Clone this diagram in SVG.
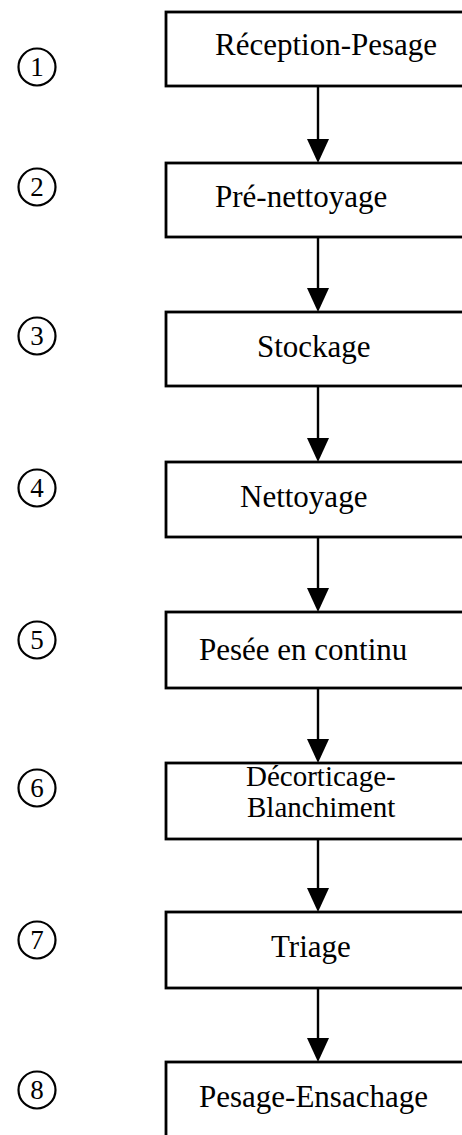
<svg xmlns="http://www.w3.org/2000/svg" width="462" height="1135" viewBox="0 0 462 1135">
<style>
.box{fill:#fff;stroke:#000;stroke-width:2.8}
.lbl{font-family:"Liberation Serif","Times New Roman",serif;font-size:31px;fill:#000}
.lbl2{font-family:"Liberation Serif","Times New Roman",serif;font-size:29px;fill:#000}
.num{font-family:"Liberation Serif","Times New Roman",serif;font-size:27px;fill:#000;text-anchor:middle}
.circ{fill:none;stroke:#000;stroke-width:2.2}
.edge{stroke:#000;stroke-width:2.4;fill:none}
</style>
<defs>
<marker id="ah" markerUnits="userSpaceOnUse" markerWidth="24" markerHeight="22" refX="14" refY="11" orient="auto" viewBox="0 0 24 22">
<polygon points="0,0 24,11 0,22" fill="#000"/>
</marker>
</defs>
<rect width="462" height="1135" fill="#fff"/>
<g id="connectors">
<line class="edge" x1="318" y1="86" x2="318" y2="153" marker-end="url(#ah)"/>
<line class="edge" x1="318" y1="237" x2="318" y2="302" marker-end="url(#ah)"/>
<line class="edge" x1="318" y1="386" x2="318" y2="452" marker-end="url(#ah)"/>
<line class="edge" x1="318" y1="537" x2="318" y2="602" marker-end="url(#ah)"/>
<line class="edge" x1="318" y1="688" x2="318" y2="753" marker-end="url(#ah)"/>
<line class="edge" x1="318" y1="839" x2="318" y2="902" marker-end="url(#ah)"/>
<line class="edge" x1="318" y1="988" x2="318" y2="1052" marker-end="url(#ah)"/>
</g>
<g id="n1"><rect class="box" x="166" y="12" width="310" height="74"/><text class="lbl" x="215" y="55">Réception-Pesage</text></g>
<g id="n2"><rect class="box" x="166" y="163" width="310" height="74"/><text class="lbl" x="215" y="207">Pré-nettoyage</text></g>
<g id="n3"><rect class="box" x="166" y="312" width="310" height="74"/><text class="lbl" x="257" y="357">Stockage</text></g>
<g id="n4"><rect class="box" x="166" y="462" width="310" height="75"/><text class="lbl" x="240" y="507">Nettoyage</text></g>
<g id="n5"><rect class="box" x="166" y="612" width="310" height="76"/><text class="lbl" x="199" y="660">Pesée en continu</text></g>
<g id="n6"><rect class="box" x="166" y="763" width="310" height="76"/><text class="lbl2" x="246" y="786">Décorticage-</text><text class="lbl2" x="247" y="817">Blanchiment</text></g>
<g id="n7"><rect class="box" x="166" y="912" width="310" height="76"/><text class="lbl" x="271" y="957">Triage</text></g>
<g id="n8"><rect class="box" x="166" y="1062" width="310" height="90"/><text class="lbl" x="199" y="1107">Pesage-Ensachage</text></g>
<g id="c1"><circle class="circ" cx="37" cy="67" r="18.5"/><text class="num" x="37" y="76">1</text></g>
<g id="c2"><circle class="circ" cx="37" cy="187" r="18.5"/><text class="num" x="37" y="196">2</text></g>
<g id="c3"><circle class="circ" cx="37" cy="336" r="18.5"/><text class="num" x="37" y="345">3</text></g>
<g id="c4"><circle class="circ" cx="37" cy="488" r="18.5"/><text class="num" x="37" y="497">4</text></g>
<g id="c5"><circle class="circ" cx="37" cy="640" r="18.5"/><text class="num" x="37" y="649">5</text></g>
<g id="c6"><circle class="circ" cx="37" cy="788" r="18.5"/><text class="num" x="37" y="797">6</text></g>
<g id="c7"><circle class="circ" cx="37" cy="940" r="18.5"/><text class="num" x="37" y="949">7</text></g>
<g id="c8"><circle class="circ" cx="37" cy="1090" r="18.5"/><text class="num" x="37" y="1099">8</text></g>
</svg>
